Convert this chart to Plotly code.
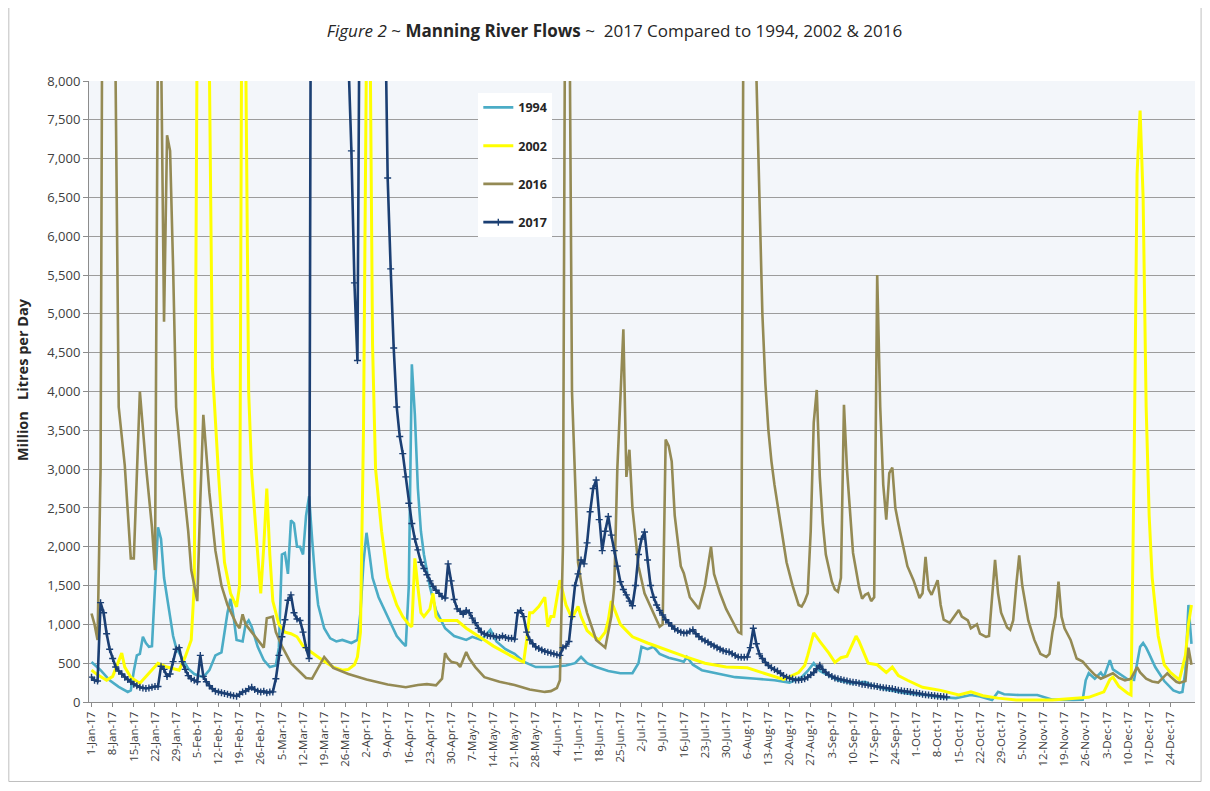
import pandas as pd
import plotly.graph_objects as go

YEAR_START = "2017-01-01"

# ---- 1994 (day of year index, value in ML/day) ----
days_1994 = [0, 3, 6, 9, 12, 13, 14, 15, 16, 17, 18, 19, 20, 21, 22, 23, 24, 26, 27, 28, 30, 32, 34, 37, 39, 41,
             43, 44, 45, 46, 47, 48, 50, 51, 52, 53, 55, 57, 59, 61, 62, 63, 64, 65, 66, 67, 68, 69, 70, 71, 72, 73,
             74, 75, 77, 79, 81, 83, 86, 88, 89, 90, 91, 92, 93, 95, 97, 99, 101, 103, 104, 105, 106, 107, 108, 109,
             110, 112, 114, 117, 120, 124, 126, 129, 132, 134, 137, 140, 143, 147, 152, 157, 160, 162, 164, 167,
             171, 175, 179, 181, 182, 184, 186, 188, 191, 194, 196, 197, 199, 202, 207, 213, 220, 226, 231, 235,
             237, 239, 241, 243, 247, 252, 256, 258, 263, 270, 276, 280, 286, 291, 294, 298, 300, 302, 307, 313,
             318, 325, 328, 329, 330, 332, 334, 335, 337, 338, 340, 343, 345, 346, 347, 348, 349, 350, 352, 355,
             358, 360, 361, 362, 363, 364]
flow_1994 = [515, 410, 280, 195, 130, 150, 400, 600, 620, 840, 760, 710, 720, 1570, 2250, 2100, 1600, 1100, 850,
             700, 570, 430, 360, 320, 410, 600, 640, 900, 1150, 1330, 1100, 800, 780, 1000, 1050, 970, 710, 540,
             450, 470, 700, 1900, 1920, 1650, 2340, 2300, 2000, 2000, 1900, 2400, 2650, 2100, 1600, 1250, 950,
             820, 780, 800, 760, 800, 1150, 1800, 2180, 1900, 1600, 1350, 1180, 1000, 850, 760, 720, 1500, 4350,
             3700, 2750, 2200, 1900, 1480, 1180, 950, 850, 800, 840, 800, 930, 780, 680, 620, 520, 450, 450, 470,
             500, 580, 500, 450, 400, 370, 370, 500, 710, 680, 710, 620, 570, 540, 520, 580, 480, 410, 370, 320,
             300, 280, 250, 320, 400, 500, 400, 360, 280, 240, 260, 220, 160, 110, 90, 65, 50, 90, 70, 25, 130,
             100, 90, 90, 30, 25, 30, 280, 370, 300, 380, 320, 540, 420, 370, 290, 285, 500, 710, 760, 700, 620,
             450, 270, 150, 120, 130, 400, 1250, 750]

# ---- 2002 ----
days_2002 = [0, 2, 5, 7, 10, 11, 13, 16, 19, 22, 25, 29, 31, 33, 34, 35, 36, 37, 38, 39, 40, 42, 44, 46, 48, 49,
             50, 51, 52, 53, 55, 56, 57, 58, 59, 60, 62, 64, 66, 68, 70, 73, 76, 80, 83, 85, 87, 88, 89, 90, 91,
             92, 93, 94, 96, 98, 101, 103, 105, 106, 107, 108, 109, 110, 112, 113, 114, 115, 118, 121, 124, 127,
             130, 133, 136, 139, 142, 143, 144, 145, 146, 148, 150, 151, 152, 153, 155, 156, 157, 159, 160, 161,
             162, 164, 166, 168, 170, 171, 172, 173, 175, 177, 179, 184, 190, 196, 203, 210, 217, 223, 229, 234,
             236, 237, 239, 241, 244, 246, 248, 250, 251, 253, 254, 257, 260, 263, 265, 267, 270, 275, 281, 287,
             291, 295, 300, 306, 318, 325, 330, 335, 337, 338, 340, 343, 344, 345, 346, 347, 348, 349, 350, 351,
             353, 355, 357, 360, 362, 363, 364]
flow_2002 = [410, 350, 280, 330, 630, 450, 320, 240, 370, 500, 450, 410, 580, 800, 1500, 9000, 14000, 13000,
             10000, 8200, 4300, 2950, 1800, 1400, 1225, 1500, 12000, 8500, 4000, 2950, 1900, 1400, 2000, 2750,
             1900, 1300, 1000, 900, 880, 840, 720, 630, 550, 450, 410, 420, 480, 580, 900, 3500, 8500, 9500, 4600,
             3000, 2200, 1600, 1250, 1100, 1000, 970, 1850, 1480, 1150, 1100, 1200, 1400, 1100, 1050, 1050, 1050,
             950, 880, 800, 720, 650, 590, 530, 515, 800, 1150, 1150, 1230, 1350, 970, 1100, 1100, 1570, 1400,
             1250, 1080, 1150, 1230, 1100, 920, 850, 800, 900, 1050, 1300, 1200, 1000, 920, 840, 760, 670, 590,
             500, 450, 440, 370, 290, 380, 470, 600, 890, 780, 630, 510, 570, 590, 680, 850, 780, 500, 480, 380,
             450, 340, 280, 190, 150, 90, 130, 80, 50, 25, 25, 40, 60, 130, 290, 320, 200, 110, 90, 3000, 6800,
             7620, 6500, 3800, 2400, 1600, 850, 480, 380, 285, 600, 1000, 1250]

# ---- 2016 ----
days_2016 = [0, 1, 2, 3, 4, 5, 6, 7, 8, 9, 11, 12, 13, 14, 16, 18, 20, 21, 22, 23, 24, 25, 26, 27, 28, 30, 32,
             33, 35, 36, 37, 39, 41, 43, 45, 48, 49, 50, 51, 53, 56, 57, 58, 60, 61, 63, 66, 69, 71, 73, 75, 77,
             80, 85, 91, 98, 104, 108, 111, 114, 116, 117, 118, 119, 121, 122, 124, 125, 127, 130, 135, 140, 145,
             150, 152, 154, 155, 156, 157, 158, 159, 160, 161, 163, 164, 167, 170, 172, 173, 174, 175, 176, 177,
             178, 179, 181, 183, 185, 188, 189, 190, 191, 192, 193, 195, 196, 198, 201, 203, 205, 206, 208, 210,
             212, 214, 215, 216, 217, 218, 219, 220, 221, 222, 223, 224, 225, 226, 228, 230, 232, 234, 235, 236,
             237, 238, 239, 240, 241, 242, 243, 244, 245, 246, 247, 248, 249, 250, 251, 252, 253, 254, 255, 256,
             257, 258, 259, 260, 261, 262, 263, 264, 265, 266, 267, 268, 270, 272, 274, 275, 276, 277, 278, 280,
             281, 282, 284, 287, 288, 290, 291, 293, 294, 296, 297, 299, 300, 301, 303, 304, 305, 306, 307, 308,
             309, 310, 312, 314, 316, 317, 318, 319, 320, 321, 322, 324, 326, 328, 330, 332, 334, 336, 338, 340,
             342, 344, 346, 347, 349, 351, 353, 355, 356, 357, 359, 360, 362, 363, 364]
flow_2016 = [1140, 1000, 800, 3000, 14000, 16000, 15000, 12000, 7800, 3800, 3050, 2400, 1850, 1850, 4000, 3050,
             2250, 1700, 8800, 8500, 4900, 7300, 7100, 5600, 3800, 2950, 2200, 1700, 1300, 2600, 3700, 2700,
             1950, 1500, 1250, 1000, 950, 1130, 1000, 900, 750, 700, 1080, 1100, 900, 720, 500, 380, 310, 300,
             450, 580, 440, 360, 290, 225, 190, 220, 230, 215, 300, 630, 560, 520, 500, 450, 645, 560, 450, 320,
             260, 220, 160, 130, 140, 180, 280, 2000, 12000, 10000, 4000, 2900, 1800, 1300, 1145, 800, 700, 1100,
             1500, 3000, 4000, 4800, 2900, 3250, 2500, 1750, 1400, 1220, 970, 1000, 3380, 3300, 3100, 2400, 1750,
             1660, 1350, 1200, 1500, 2000, 1650, 1400, 1200, 1050, 900, 880, 12000, 16000, 14000, 11000, 8100,
             6500, 5000, 4100, 3500, 3100, 2800, 2300, 1800, 1500, 1250, 1230, 1300, 1400, 2200, 3600, 4020, 2900,
             2300, 1900, 1700, 1550, 1450, 1420, 1600, 3830, 3000, 2400, 1920, 1700, 1480, 1330, 1380, 1400,
             1300, 1350, 5500, 3800, 2800, 2350, 2950, 3020, 2500, 2300, 2100, 1750, 1570, 1340, 1400, 1870,
             1450, 1380, 1570, 1250, 1060, 1020, 1185, 1100, 1050, 950, 1000, 880, 840, 850, 1830, 1400, 1150,
             960, 930, 1050, 1500, 1890, 1500, 1250, 1050, 800, 620, 580, 620, 900, 1100, 1550, 1100, 950, 800,
             560, 520, 430, 350, 300, 340, 370, 310, 280, 300, 450, 380, 300, 265, 250, 330, 370, 330, 260, 245,
             270, 700, 480]

# ---- 2017 (daily from 1 Jan) ----
flow_2017 = [320, 280, 270, 1280, 1150, 880, 680, 560, 450, 400,
             360, 320, 290, 260, 230, 210, 190, 180, 175, 180,
             190, 200, 200, 460, 420, 330, 360, 520, 680, 700,
             520, 420, 340, 300, 280, 260, 600, 330, 260, 210,
             170, 140, 130, 120, 110, 100, 90, 80, 75, 100,
             130, 140, 170, 190, 160, 140, 130, 140, 120, 130,
             130, 300, 600, 840, 1060, 1310, 1380, 1150, 1070, 1050,
             900, 700, 560, 16000, 22000, 20000, 18000, 16000, 14000, 13000,
             12000, 11000, 10000, 9500, 9000, 8300, 7100, 5400, 4400, 12000,
             18000, 17000, 15000, 13500, 12000, 11000, 10000, 9400, 6750, 5580,
             4560, 3800, 3420, 3200, 2900, 2560, 2300, 2100, 1960, 1800,
             1720, 1640, 1560, 1490, 1440, 1400, 1360, 1340, 1780, 1560,
             1320, 1200, 1170, 1130, 1180, 1150, 1080, 1020, 950, 900,
             880, 860, 850, 850, 840, 830, 850, 830, 820, 820,
             810, 1150, 1180, 1100, 900, 800, 750, 710, 690, 670,
             650, 640, 630, 620, 610, 600, 700, 720, 780, 1100,
             1500, 1650, 1830, 1780, 2050, 2450, 2750, 2860, 2350, 1950,
             2200, 2390, 2150, 1950, 1750, 1550, 1450, 1380, 1300, 1240,
             1500, 1900, 2100, 2190, 1830, 1500, 1350, 1250, 1180, 1120,
             1060, 1020, 980, 940, 920, 900, 890, 890, 910, 930,
             880, 840, 810, 790, 770, 740, 720, 700, 680, 660,
             650, 645, 620, 600, 580, 575, 575, 580, 700, 950,
             750, 620, 560, 510, 470, 440, 420, 400, 370, 340,
             320, 305, 295, 285, 285, 290, 300, 320, 350, 380,
             430, 475, 420, 380, 350, 330, 310, 300, 290, 280,
             270, 260, 255, 250, 240, 230, 225, 220, 210, 205,
             200, 190, 185, 180, 175, 170, 160, 150, 145, 140,
             135, 130, 120, 115, 110, 100, 95, 90, 85, 80,
             75, 70, 68, 65]

Y_TICKS = list(range(0, 8001, 500))
X_TICKS = pd.date_range("2017-01-01", "2017-12-24", freq="7D")


def to_dates(days):
    return pd.Timestamp(YEAR_START) + pd.to_timedelta(days, unit="D")


FONT = "Open Sans"

fig = go.Figure()
fig.add_trace(go.Scatter(x=to_dates(days_1994), y=flow_1994, name="1994", mode="lines",
                         line=dict(color="#4BACC6", width=2.6), legendgroup="a"))
fig.add_trace(go.Scatter(x=to_dates(days_2002), y=flow_2002, name="2002", mode="lines",
                         line=dict(color="#FFFF00", width=3), legendgroup="b"))
fig.add_trace(go.Scatter(x=to_dates(days_2016), y=flow_2016, name="2016", mode="lines",
                         line=dict(color="#948A54", width=2.6), legendgroup="c"))
fig.add_trace(go.Scatter(x=to_dates(list(range(len(flow_2017)))), y=flow_2017, name="2017",
                         mode="lines+markers",
                         line=dict(color="#1B3F73", width=2.6),
                         marker=dict(symbol="cross-thin", size=5, color="#1B3F73",
                                     line=dict(color="#1B3F73", width=1.4)),
                         legendgroup="d"))

x0 = pd.Timestamp(YEAR_START) - pd.Timedelta(hours=20)
x1 = pd.Timestamp(YEAR_START) + pd.Timedelta(days=365, hours=4)

# page has an 8px body margin, so the figure is drawn at (8, 8)
fig.update_layout(
    width=1194, height=775,
    margin=dict(l=81, r=7, t=73, b=81),
    paper_bgcolor="white",
    plot_bgcolor="#F3F6FA",
    font=dict(family=FONT, color="#404040"),
    title=dict(text="<i>Figure 2</i> ~ <b>Manning River Flows</b> ~  2017 Compared to 1994, 2002 & 2016",
               x=0.508, xanchor="center", y=0.970, yanchor="middle",
               font=dict(family=FONT, size=17, color="#262626")),
    legend=dict(x=0.352, y=0.981, xanchor="left", yanchor="top", bgcolor="white",
                borderwidth=0, tracegroupgap=19,
                font=dict(family=FONT, size=12.5, color="#262626", weight="bold")),
    showlegend=True,
)

fig.update_xaxes(
    type="date", range=[x0, x1],
    tickvals=X_TICKS, tickformat="%-d-%b-%y",
    tickangle=-90, tickfont=dict(size=11.5, color="#404040"),
    ticks="outside", ticklen=4, tickcolor="#8c8c8c",
    showgrid=False, showline=True, linecolor="#8c8c8c", linewidth=1,
    zeroline=False,
)
fig.update_yaxes(
    range=[0, 8000], tickvals=Y_TICKS, tickformat=",",
    tickfont=dict(size=13, color="#404040"),
    ticks="outside", ticklen=5, tickcolor="#8c8c8c",
    showgrid=True, gridcolor="#9C9C9C", gridwidth=1.4,
    showline=True, linecolor="#8c8c8c", linewidth=1, zeroline=False,
)

fig.add_annotation(
    text="<b>Million\u00a0\u00a0\u00a0Litres per Day</b>", textangle=-90,
    xref="paper", yref="paper", x=-0.0606, y=0.52, xanchor="center", yanchor="middle",
    showarrow=False, font=dict(family=FONT, size=14.5, color="#262626"),
)

fig.add_shape(type="rect", xref="paper", yref="paper",
              x0=-0.0725, x1=1.0055, y0=-0.128, y1=1.1224,
              line=dict(color="#BFBFBF", width=1), fillcolor="rgba(0,0,0,0)", layer="below")

fig.write_html("out.html")
